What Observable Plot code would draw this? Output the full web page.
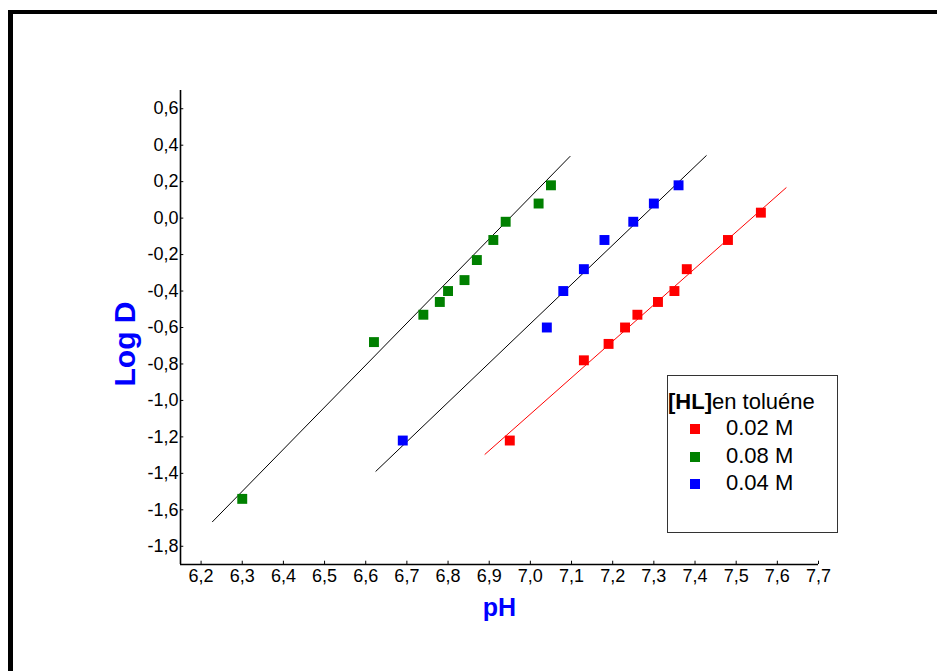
<!DOCTYPE html>
<html>
<head>
<meta charset="utf-8">
<script src="https://cdn.jsdelivr.net/npm/d3@7"></script>
<script src="https://cdn.jsdelivr.net/npm/@observablehq/plot@0.6"></script>
<style>
  html, body { margin: 0; padding: 0; background: #fff; overflow: hidden; }
  #wrap { position: relative; width: 937px; height: 671px; font-family: "Liberation Sans", Arial, sans-serif; }
  #frame { position: absolute; left: 8px; top: 10px; width: 1000px; height: 800px; border-top: 4px solid #000; border-left: 5px solid #000; box-sizing: border-box; }
  #chart { position: absolute; left: 0; top: 0; }
  #legend { position: absolute; left: 667px; top: 375px; width: 171px; height: 158px; border: 1px solid #333; box-sizing: border-box; background: #fff; }
  #legend .title { position: absolute; left: 0px; top: 13px; font-size: 22px; white-space: nowrap; color: #000; }
  #legend .sw { position: absolute; left: 22px; width: 10px; height: 10px; }
  #legend .lab { position: absolute; left: 58px; font-size: 22px; white-space: nowrap; color: #000; }
</style>
</head>
<body>
<div id="wrap">
  <div id="frame"></div>
  <div id="chart"></div>
  <div id="legend"></div>
</div>
<script>
// Series: [HL] en toluène
const seriesNames = ["0.02 M", "0.08 M", "0.04 M"];
const seriesColors = ["#ff0000", "#008000", "#0000ff"];

const green_pH   = [6.30, 6.62, 6.74, 6.78, 6.80, 6.84, 6.87, 6.91, 6.94, 7.02, 7.05];
const green_logD = [-1.54, -0.68, -0.53, -0.46, -0.40, -0.34, -0.23, -0.12, -0.02, 0.08, 0.18];

const blue_pH   = [6.69, 7.04, 7.08, 7.13, 7.18, 7.25, 7.30, 7.36];
const blue_logD = [-1.22, -0.60, -0.40, -0.28, -0.12, -0.02, 0.08, 0.18];

const red_pH   = [6.95, 7.13, 7.19, 7.23, 7.26, 7.31, 7.35, 7.38, 7.48, 7.56];
const red_logD = [-1.22, -0.78, -0.69, -0.60, -0.53, -0.46, -0.40, -0.28, -0.12, 0.03];

// Fitted lines: start/end [pH, logD]
const green_fit = [[6.227, -1.667], [7.097, 0.340]];
const blue_fit  = [[6.624, -1.390], [7.428, 0.344]];
const red_fit   = [[6.889, -1.297], [7.622, 0.168]];

const xTicks = [6.2, 6.3, 6.4, 6.5, 6.6, 6.7, 6.8, 6.9, 7.0, 7.1, 7.2, 7.3, 7.4, 7.5, 7.6, 7.7];
const yTicks = [-1.8, -1.6, -1.4, -1.2, -1.0, -0.8, -0.6, -0.4, -0.2, 0.0, 0.2, 0.4, 0.6];
const xDomain = [6.15, 7.7];
const yDomain = [-1.9, 0.7];

const fmt = d => d.toFixed(1).replace(".", ",");

const pts = [];
red_pH.forEach((x, i) => pts.push({x, y: red_logD[i], s: "0.02 M"}));
green_pH.forEach((x, i) => pts.push({x, y: green_logD[i], s: "0.08 M"}));
blue_pH.forEach((x, i) => pts.push({x, y: blue_logD[i], s: "0.04 M"}));

const fits = [
  {seg: green_fit, color: "#000"},
  {seg: blue_fit, color: "#000"},
  {seg: red_fit, color: "#ff0000"}
].map(f => ({x1: f.seg[0][0], y1: f.seg[0][1], x2: f.seg[1][0], y2: f.seg[1][1], c: f.color}));

const colorOf = {};
seriesNames.forEach((n, i) => colorOf[n] = seriesColors[i]);

const chart = Plot.plot({
  width: 937,
  height: 671,
  marginLeft: 180,
  marginRight: 119,
  marginTop: 90,
  marginBottom: 107,
  style: {fontFamily: "'Liberation Sans', Arial, sans-serif", fontSize: "18px", color: "#000", background: "transparent", overflow: "visible"},
  x: {domain: xDomain},
  y: {domain: yDomain},
  marks: [
    Plot.link(fits, {x1: "x1", y1: "y1", x2: "x2", y2: "y2", stroke: "c", strokeWidth: 1}),
    Plot.dot(pts, {x: "x", y: "y", symbol: "square", r: 5.6, fill: d => colorOf[d.s], stroke: "none"}),
    Plot.ruleX([xDomain[0]], {stroke: "#000", strokeWidth: 1.6}),
    Plot.ruleY([yDomain[0]], {stroke: "#000", strokeWidth: 1.6}),
    Plot.axisX(xTicks, {tickSize: 0, tickPadding: 5, tickFormat: fmt, label: null, fontSize: 18}),
    Plot.axisY(yTicks, {tickSize: 0, tickPadding: 2, tickFormat: fmt, label: null, fontSize: 18}),
    Plot.ruleY(yTicks, {x1: xDomain[0], x2: xDomain[0] + 0.008, stroke: "#000", strokeWidth: 1}),
    Plot.ruleX(xTicks, {y1: yDomain[0], y2: yDomain[0] + 0.018, stroke: "#000", strokeWidth: 1}),
    Plot.text(["pH"], {frameAnchor: "bottom", dy: 43, fill: "#0000ff", fontWeight: "bold", fontSize: 25, lineAnchor: "middle"}),
    Plot.text(["Log D"], {frameAnchor: "left", dx: -55, dy: 59, rotate: -90, fill: "#0000ff", fontWeight: "bold", fontSize: 30, lineAnchor: "middle"})
  ]
});
document.getElementById("chart").appendChild(chart);

// Legend
const lg = document.getElementById("legend");
const t = document.createElement("div");
t.className = "title";
t.innerHTML = "<b>[HL]</b>en toluéne";
lg.appendChild(t);
const rowTops = [47, 74.5, 102];
seriesNames.forEach((n, i) => {
  const sw = document.createElement("div");
  sw.className = "sw";
  sw.style.top = (rowTops[i] + 1) + "px";
  sw.style.background = seriesColors[i];
  lg.appendChild(sw);
  const lab = document.createElement("div");
  lab.className = "lab";
  lab.style.top = (rowTops[i] - 8) + "px";
  lab.textContent = n;
  lg.appendChild(lab);
});
</script>
</body>
</html>
